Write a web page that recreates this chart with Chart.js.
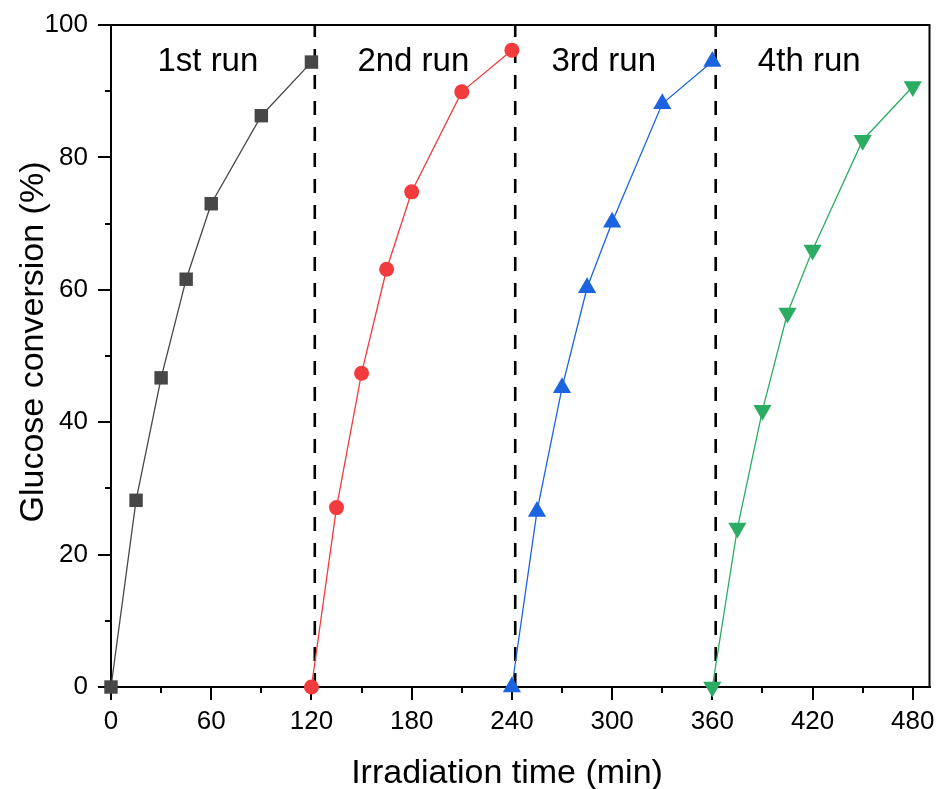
<!DOCTYPE html>
<html>
<head>
<meta charset="utf-8">
<script src="https://cdn.jsdelivr.net/npm/chart.js@4/dist/chart.umd.min.js"></script>
<style>
  html, body { margin: 0; padding: 0; background: #fff; }
  #wrap { width: 940px; height: 789px; }
</style>
</head>
<body>
<div id="wrap"><canvas id="chart"></canvas></div>
<script>
// Irradiation time (min) for each run
var run1Time = [0, 15, 30, 45, 60, 90, 120];
var run2Time = [120, 135, 150, 165, 180, 210, 240];
var run3Time = [240, 255, 270, 285, 300, 330, 360];
var run4Time = [360, 375, 390, 405, 420, 450, 480];

// Glucose conversion (%)
var run1Conv = [0, 28.2, 46.7, 61.6, 73.0, 86.3, 94.4];
var run2Conv = [0, 27.1, 47.4, 63.1, 74.8, 89.9, 96.2];
var run3Conv = [0, 26.5, 45.2, 60.3, 70.2, 88.1, 94.5];
var run4Conv = [0, 24.0, 41.8, 56.5, 66.0, 82.6, 90.7];

var runLabels = ['1st run', '2nd run', '3rd run', '4th run'];
var runBoundaries = [122, 242, 362];

var xTicks = [0, 60, 120, 180, 240, 300, 360, 420, 480];
var xMinorTicks = [30, 90, 150, 210, 270, 330, 390, 450];
var yTicks = [0, 20, 40, 60, 80, 100];
var yMinorTicks = [10, 30, 50, 70, 90];

var xTitle = 'Irradiation time (min)';
var yTitle = 'Glucose conversion (%)';

var FONT = "'Liberation Sans', Arial, sans-serif";

function points(xs, ys) {
  var out = [];
  for (var i = 0; i < xs.length; i++) {
    out.push({x: xs[i], y: ys[i]});
  }
  return out;
}

function series(label, xs, ys, color, style, radius, rotation) {
  return {
    label: label,
    data: points(xs, ys),
    showLine: true,
    borderColor: color,
    backgroundColor: color,
    borderWidth: 1.3,
    pointStyle: style,
    pointRadius: radius,
    pointHoverRadius: radius,
    pointBorderWidth: 0,
    pointRotation: rotation || 0,
    tension: 0,
    clip: false
  };
}

var datasets = [
  series('1st run', run1Time, run1Conv, '#474747', 'rect', 9.5),
  series('2nd run', run2Time, run2Conv, '#f23b3d', 'circle', 7.5),
  series('3rd run', run3Time, run3Conv, '#1c63e0', 'triangle', 10.5),
  series('4th run', run4Time, run4Conv, '#2aac63', 'triangle', 10.5, 180)
];

runBoundaries.forEach(function(b) {
  datasets.push({
    label: 'boundary',
    data: [{x: b, y: 0}, {x: b, y: 100}],
    showLine: true,
    borderColor: '#000',
    borderWidth: 2.6,
    borderDash: [14, 12],
    pointRadius: 0,
    tension: 0,
    clip: false
  });
});

// minor ticks, box frame, axis titles and run labels
var extras = {
  id: 'extras',
  afterDraw: function(chart) {
    var ctx = chart.ctx;
    var xs = chart.scales.x, ys = chart.scales.y;
    var area = chart.chartArea;
    ctx.save();
    ctx.strokeStyle = '#000';
    ctx.lineWidth = 2;
    ctx.beginPath();
    xMinorTicks.forEach(function(v) {
      var px = Math.round(xs.getPixelForValue(v));
      ctx.moveTo(px, area.bottom);
      ctx.lineTo(px, area.bottom + 6);
    });
    yMinorTicks.forEach(function(v) {
      var py = Math.round(ys.getPixelForValue(v));
      ctx.moveTo(area.left, py);
      ctx.lineTo(area.left - 6, py);
    });
    ctx.moveTo(area.left - 1, area.top);
    ctx.lineTo(area.right, area.top);
    ctx.lineTo(area.right, area.bottom + 1);
    ctx.stroke();

    ctx.fillStyle = '#000';
    ctx.textAlign = 'center';
    ctx.textBaseline = 'alphabetic';

    var labelX = [58, 181, 295, 418];
    ctx.font = '33px ' + FONT;
    runLabels.forEach(function(t, i) {
      ctx.fillText(t, xs.getPixelForValue(labelX[i]), ys.getPixelForValue(93.0));
    });

    ctx.font = '34px ' + FONT;
    ctx.fillText(xTitle, 507, 783);
    ctx.translate(43, 342);
    ctx.rotate(-Math.PI / 2);
    ctx.fillText(yTitle, 0, 0);
    ctx.restore();
  }
};

new Chart(document.getElementById('chart'), {
  type: 'scatter',
  data: {datasets: datasets},
  plugins: [extras],
  options: {
    responsive: true,
    maintainAspectRatio: false,
    animation: false,
    events: [],
    layout: {padding: {top: 25, right: 8, left: 0, bottom: 0}},
    plugins: {
      legend: {display: false},
      tooltip: {enabled: false}
    },
    scales: {
      x: {
        type: 'linear',
        min: 0,
        max: 490,
        afterBuildTicks: function(s) {
          s.ticks = xTicks.map(function(v) { return {value: v}; });
        },
        afterFit: function(s) {
          s.height = 102;
          s.paddingLeft = 0;
          s.paddingRight = 0;
        },
        grid: {
          display: true,
          drawOnChartArea: false,
          drawTicks: true,
          tickLength: 13,
          color: '#000',
          lineWidth: 2
        },
        border: {display: true, color: '#000', width: 2},
        ticks: {
          color: '#000',
          padding: 6,
          maxRotation: 0,
          font: {family: FONT, size: 26}
        }
      },
      y: {
        type: 'linear',
        min: 0,
        max: 100,
        afterBuildTicks: function(s) {
          s.ticks = yTicks.map(function(v) { return {value: v}; });
        },
        afterFit: function(s) {
          s.width = 111;
          s.paddingTop = 0;
          s.paddingBottom = 0;
        },
        grid: {
          display: true,
          drawOnChartArea: false,
          drawTicks: true,
          tickLength: 13,
          color: '#000',
          lineWidth: 2
        },
        border: {display: true, color: '#000', width: 2},
        ticks: {
          color: '#000',
          padding: 10,
          font: {family: FONT, size: 26}
        }
      }
    }
  }
});
</script>
</body>
</html>
